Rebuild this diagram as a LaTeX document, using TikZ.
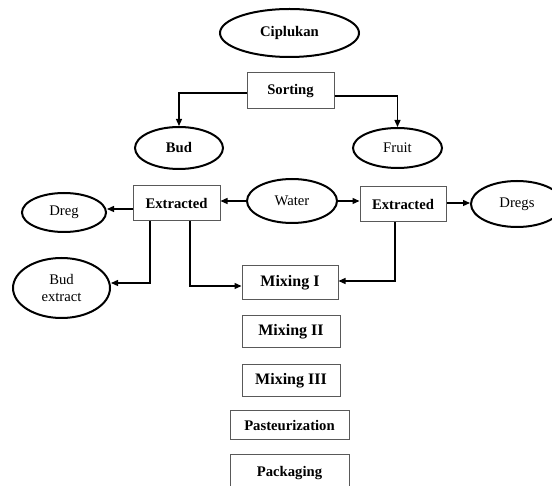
\documentclass[tikz,border=0pt]{standalone}
\usepackage{fontspec}
\setmainfont{Liberation Serif}
\usetikzlibrary{shapes.geometric,arrows.meta}
\begin{document}
\begin{tikzpicture}[x=1pt,y=-1pt,
  every node/.style={font=\fontsize{14.67pt}{17pt}\selectfont},
  bigtext/.style={font=\fontsize{16pt}{18pt}\selectfont},
  oval/.style={draw=black,ellipse,line width=2pt,inner sep=0pt},
  boxnode/.style={draw=black!65,rectangle,line width=1pt,inner sep=0pt},
  arr/.style={draw=black,line width=1.3pt,-{Triangle[length=7pt,width=6pt]}}]
\useasboundingbox (0,0) rectangle (552,486);
\clip (0,0) rectangle (552,486);
% nodes
\node[oval,minimum width=139pt,minimum height=48pt] (cip) at (289.5,33) {\textbf{Ciplukan}};
\node[boxnode,minimum width=87pt,minimum height=36pt] (sort) at (290.5,91) {\textbf{Sorting}};
\node[oval,minimum width=88pt,minimum height=42pt] (bud) at (179,148) {\textbf{Bud}};
\node[oval,minimum width=89pt,minimum height=40pt] (fruit) at (397.5,148) {Fruit};
\node[boxnode,minimum width=87pt,minimum height=35pt] (ext1) at (176.5,203.5) {\textbf{Extracted}};
\node[oval,minimum width=90pt,minimum height=44pt] (water) at (292,201) {Water};
\node[boxnode,minimum width=86pt,minimum height=35pt] (ext2) at (403,204.5) {\textbf{Extracted}};
\node[oval,minimum width=84pt,minimum height=39pt] (dreg) at (64,212.5) {Dreg};
\node[oval,minimum width=92pt,minimum height=46pt] (dregs) at (517,204) {Dregs};
\node[oval,minimum width=97pt,minimum height=60pt,align=center] (budx) at (61.5,288) {Bud\\extract};
\node[boxnode,bigtext,minimum width=96pt,minimum height=34pt] (mix1) at (290,283) {\textbf{Mixing I}};
\node[boxnode,bigtext,minimum width=98pt,minimum height=32pt] (mix2) at (291,332) {\textbf{Mixing II}};
\node[boxnode,bigtext,minimum width=98pt,minimum height=32pt] (mix3) at (291,381) {\textbf{Mixing III}};
\node[boxnode,minimum width=119pt,minimum height=29pt] (past) at (289.5,425.5) {\textbf{Pasteurization}};
\node[boxnode,minimum width=119pt,minimum height=36pt] (pack) at (289.5,473) {\textbf{Packaging}};
% connectors
\draw[arr] ([yshift=-2pt]sort.west) -| (bud.north);
\draw[arr] ([yshift=-5pt]sort.east) -| (fruit.north);
\draw[arr] (water.west) -- (water.west -| ext1.east);
\draw[arr] (water.east) -- (water.east -| ext2.west);
\coordinate (e1w) at ([yshift=-5.5pt]ext1.west);
\draw[arr] (e1w) -- (e1w -| dreg.east);
\coordinate (e2e) at ([yshift=1.5pt]ext2.east);
\draw[arr] (e2e) -- (e2e -| dregs.west);
\draw[arr] ([xshift=-26.5pt]ext1.south) |- ([yshift=5pt]budx.east);
\draw[arr] ([xshift=13.5pt]ext1.south) |- ([yshift=-3pt]mix1.west);
\draw[arr] ([xshift=-8pt]ext2.south) |- ([yshift=2pt]mix1.east);
\end{tikzpicture}
\end{document}
